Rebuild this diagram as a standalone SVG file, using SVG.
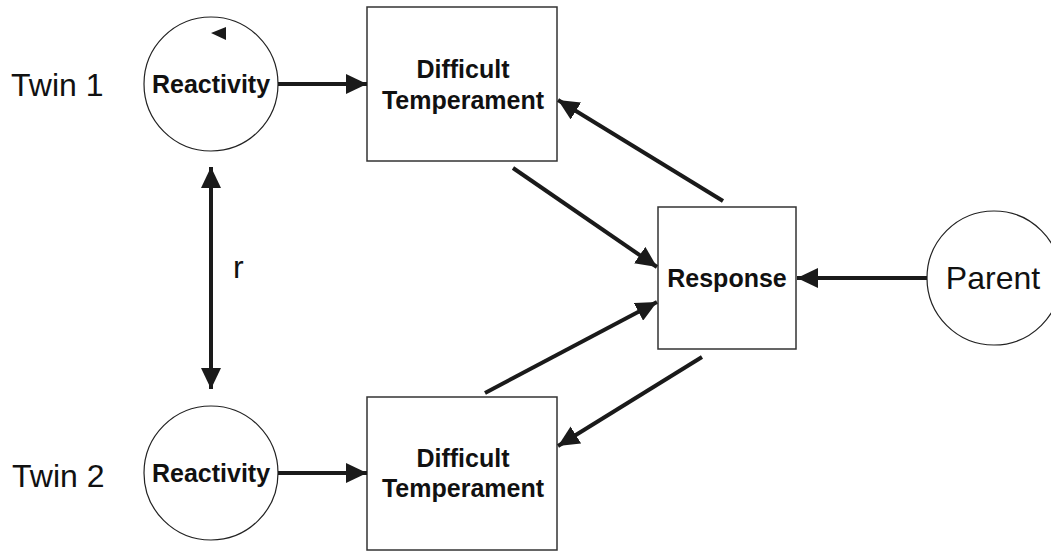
<svg xmlns="http://www.w3.org/2000/svg" width="1051" height="551" viewBox="0 0 1051 551">
<defs>
<marker id="ah" markerUnits="userSpaceOnUse" markerWidth="22" markerHeight="20" refX="21" refY="10" orient="auto-start-reverse">
<path d="M0,0 L21,10 L0,20 z" fill="#1a1a1a"/>
</marker>
</defs>
<style>
.box{fill:#fff;stroke:#333;stroke-width:1.5}
.circ{fill:#fff;stroke:#222;stroke-width:1.2}
.bold{font-family:"Liberation Sans",Arial,sans-serif;font-weight:bold;font-size:25px;fill:#111;text-anchor:middle}
.reg{font-family:"Liberation Sans",Arial,sans-serif;font-size:32px;fill:#111}
.conn line{stroke:#1a1a1a;stroke-width:4;marker-end:url(#ah)}
</style>
<rect width="1051" height="551" fill="#fff"/>
<g id="twin1-label"><text class="reg" x="11" y="96">Twin 1</text></g>
<g id="twin2-label"><text class="reg" x="12" y="487">Twin 2</text></g>
<g id="reactivity1">
<circle class="circ" cx="211" cy="84" r="67"/>
<polygon points="211,33 226,27 226,40" fill="#1a1a1a"/>
<text class="bold" x="211" y="93">Reactivity</text>
</g>
<g id="reactivity2">
<circle class="circ" cx="211" cy="473" r="67"/>
<text class="bold" x="211" y="482">Reactivity</text>
</g>
<g id="temperament1">
<rect class="box" x="367" y="7" width="190" height="154"/>
<text class="bold" x="463" y="78">Difficult</text>
<text class="bold" x="463" y="109">Temperament</text>
</g>
<g id="temperament2">
<rect class="box" x="367" y="397" width="190" height="153"/>
<text class="bold" x="463" y="467">Difficult</text>
<text class="bold" x="463" y="497">Temperament</text>
</g>
<g id="response">
<rect class="box" x="658" y="207" width="138" height="142"/>
<text class="bold" x="727" y="287">Response</text>
</g>
<g id="parent">
<circle class="circ" cx="994" cy="278" r="67"/>
<text class="reg" x="993" y="289" text-anchor="middle">Parent</text>
</g>
<g id="r-label"><text class="reg" x="233" y="278">r</text></g>
<g class="conn" id="connectors">
<line x1="278" y1="84" x2="367" y2="84"/>
<line x1="278" y1="473" x2="367" y2="473"/>
<line x1="211" y1="167" x2="211" y2="389" marker-start="url(#ah)"/>
<line x1="513" y1="168" x2="657" y2="267"/>
<line x1="723" y1="201" x2="558" y2="100"/>
<line x1="485" y1="393" x2="657" y2="302"/>
<line x1="702" y1="357" x2="558" y2="446"/>
<line x1="927" y1="278" x2="797" y2="278"/>
</g>
</svg>
